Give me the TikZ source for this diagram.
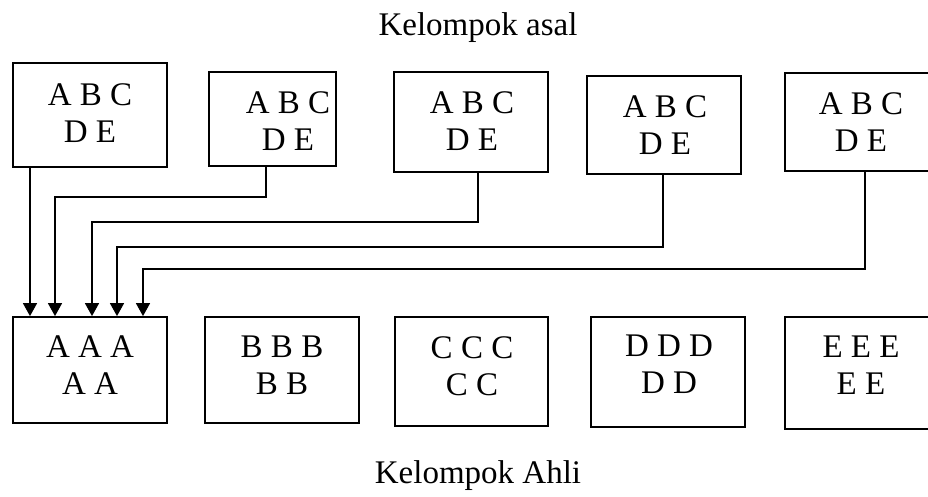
\documentclass[tikz,border=0pt]{standalone}
\usepackage{fontspec}
\setmainfont{Liberation Serif}
\usetikzlibrary{arrows.meta}
\begin{document}
\begin{tikzpicture}[x=1pt,y=-1pt,
  box/.style={draw, line width=1.8pt, inner sep=0pt},
  lbl/.style={font=\fontsize{33}{37}\selectfont, align=center, inner sep=0pt, anchor=north},
  ttl/.style={font=\fontsize{33}{37}\selectfont, inner sep=0pt, anchor=base},
  conn/.style={line width=1.6pt},
  arr/.style={conn, -{Triangle[length=13pt,width=14pt]}}]
\useasboundingbox (0,0) rectangle (928,496);
\clip (0,0) rectangle (928,496);
% titles
\node[ttl] (top) at (478,35) {Kelompok asal};
\node[ttl] (bot) at (478,483) {Kelompok Ahli};
% home groups
\node[box, minimum width=154pt, minimum height=104pt] (T1) at (90,115) {};
\node[box, minimum width=127pt, minimum height=94pt] (T2) at (272.5,119) {};
\node[box, minimum width=154pt, minimum height=100pt] (T3) at (471,122) {};
\node[box, minimum width=154pt, minimum height=98pt] (T4) at (664,125) {};
\node[box, minimum width=156pt, minimum height=98pt] (T5) at (863,122) {};
\node[lbl] (t1) at (90,83) {A B C\\D E};
\node[lbl] (t2) at (288,91) {A B C\\D E};
\node[lbl] (t3) at (472,91) {A B C\\D E};
\node[lbl] (t4) at (665,95) {A B C\\D E};
\node[lbl] (t5) at (861,92) {A B C\\D E};
% expert groups
\node[box, minimum width=154pt, minimum height=106pt] (B1) at (90,370) {};
\node[box, minimum width=154pt, minimum height=106pt] (B2) at (282,370) {};
\node[box, minimum width=153pt, minimum height=109pt] (B3) at (471.5,371.5) {};
\node[box, minimum width=154pt, minimum height=110pt] (B4) at (668,372) {};
\node[box, minimum width=156pt, minimum height=112pt] (B5) at (863,373) {};
\node[lbl] (b1) at (90,336) {A A A\\A A};
\node[lbl] (b2) at (282,336) {B B B\\B B};
\node[lbl] (b3) at (472,336) {C C C\\C C};
\node[lbl] (b4) at (669,335) {D D D\\D D};
\node[lbl] (b5) at (861,336) {E E E\\E E};
% connectors
\coordinate (e1) at (30,250);
\coordinate (k2) at (266,197); \coordinate (e2) at (55,197);
\coordinate (k3) at (478,222); \coordinate (e3) at (92,222);
\coordinate (k4) at (663,247); \coordinate (e4) at (117,247);
\coordinate (k5) at (865,269); \coordinate (e5) at (143,269);
\draw[arr] (T1.south -| e1) -- (B1.north -| e1);
\draw[arr] (T2.south -| k2) -- (k2) -- (e2) -- (B1.north -| e2);
\draw[arr] (T3.south -| k3) -- (k3) -- (e3) -- (B1.north -| e3);
\draw[arr] (T4.south -| k4) -- (k4) -- (e4) -- (B1.north -| e4);
\draw[arr] (T5.south -| k5) -- (k5) -- (e5) -- (B1.north -| e5);
\end{tikzpicture}
\end{document}
